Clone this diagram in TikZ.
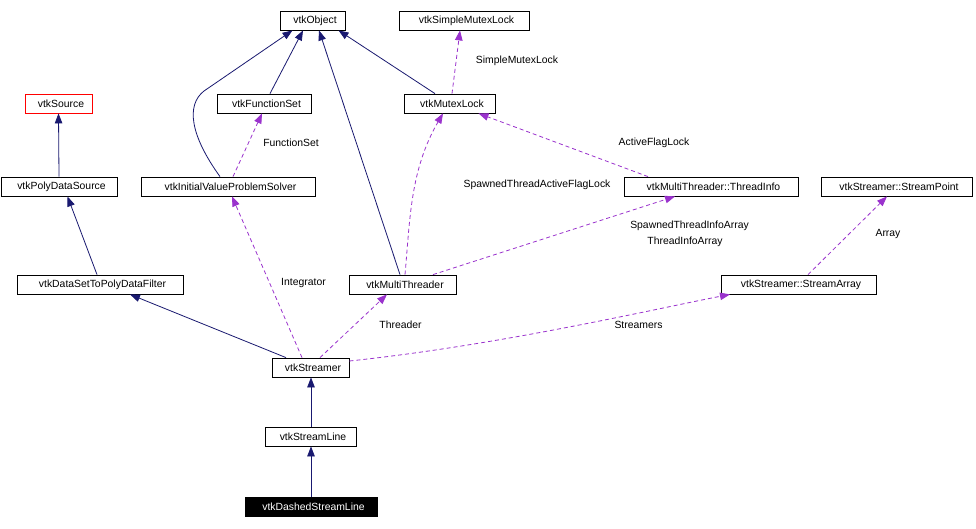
\documentclass[tikz,border=0pt]{standalone}
\usepackage{fontspec}
\setmainfont{Liberation Sans}
\usetikzlibrary{arrows.meta}
\definecolor{inhc}{HTML}{191970}
\definecolor{usec}{HTML}{9A32CD}
\tikzset{
  cls/.style={draw=black, line width=0.8pt, fill=white, inner sep=0pt, minimum height=19pt, font=\fontsize{10.4}{12}\selectfont, execute at begin node={\hspace*{5pt}}},
  inh/.style={draw=inhc, line width=0.8pt, -{Triangle[length=10pt,width=7.5pt]}},
  usage/.style={draw=usec, line width=0.8pt, dash pattern=on 4pt off 3pt, -{Triangle[length=10pt,width=7.5pt]}},
  lbl/.style={inner sep=0pt, font=\fontsize{10.4}{12}\selectfont}
}
\begin{document}
\begin{tikzpicture}[x=1pt,y=-1pt]
\useasboundingbox[fill=white] (0,0) rectangle (976,528);
% nodes
\node[cls, minimum width=65pt] (obj) at (312.5,20.5) {vtkObject};
\node[cls, minimum width=130pt] (sml) at (464,20.5) {vtkSimpleMutexLock};
\node[cls, minimum width=91pt] (mutex) at (449.5,103.5) {vtkMutexLock};
\node[cls, minimum width=94pt] (fset) at (264,103.5) {vtkFunctionSet};
\node[cls, draw=red, minimum width=67pt] (src) at (58.5,103.5) {vtkSource};
\node[cls, minimum width=116pt] (pds) at (59,186.5) {vtkPolyDataSource};
\node[cls, minimum width=174pt] (ivps) at (228,186.5) {vtkInitialValueProblemSolver};
\node[cls, minimum width=174pt] (tinfo) at (711,186.5) {vtkMultiThreader::ThreadInfo};
\node[cls, minimum width=151pt] (spt) at (896.5,186.5) {vtkStreamer::StreamPoint};
\node[cls, minimum width=166pt] (ds2pd) at (100,284.5) {vtkDataSetToPolyDataFilter};
\node[cls, minimum width=107pt] (mt) at (402.5,284.5) {vtkMultiThreader};
\node[cls, minimum width=155pt] (sarr) at (798.5,284.5) {vtkStreamer::StreamArray};
\node[cls, minimum width=77pt] (str) at (310.5,367.5) {vtkStreamer};
\node[cls, minimum width=91pt] (sline) at (310.5,436.5) {vtkStreamLine};
\node[cls, fill=black, text=white, minimum width=132pt] (dsl) at (311,506.5) {vtkDashedStreamLine};
% inheritance
\draw[inh] (pds.north) -- (src.south);
\draw[inh] ([xshift=-3pt]ds2pd.north) -- ([xshift=8.5pt]pds.south);
\draw[inh] ([xshift=-24.5pt]str.north) -- ([xshift=30pt]ds2pd.south);
\draw[inh] ([xshift=0.5pt]sline.north) -- ([xshift=0.5pt]str.south);
\draw[inh] ([xshift=0pt]dsl.north) -- ([xshift=0.5pt]sline.south);
\draw[inh] ([xshift=-8pt]ivps.north) .. controls (190,135) and (186,105) .. (204,91) -- ([xshift=-20pt]obj.south);
\draw[inh] ([xshift=6pt]fset.north) -- ([xshift=-9.5pt]obj.south);
\draw[inh] ([xshift=-2.5pt]mt.north) -- ([xshift=6.5pt]obj.south);
\draw[inh] ([xshift=-14.5pt]mutex.north) -- ([xshift=26pt]obj.south);
% usage
\draw[usage] ([xshift=2.5pt]mutex.north) -- ([xshift=-4pt]sml.south);
\draw[usage] ([xshift=5pt]ivps.north) -- ([xshift=-2pt]fset.south);
\draw[usage] ([xshift=2.5pt]mt.north) .. controls (410,220) and (410,170) .. ([xshift=-6.5pt]mutex.south);
\draw[usage] ([xshift=-63pt]tinfo.north) -- ([xshift=29pt]mutex.south);
\draw[usage] ([xshift=30.5pt]mt.north) -- ([xshift=-36pt]tinfo.south);
\draw[usage] ([xshift=9.5pt]sarr.north) -- ([xshift=-9.5pt]spt.south);
\draw[usage] ([xshift=-8.5pt]str.north) -- ([xshift=4pt]ivps.south);
\draw[usage] ([xshift=9.5pt]str.north) -- ([xshift=-15.5pt]mt.south);
\draw[usage] ([yshift=6.5pt]str.east) .. controls (500,345) and (650,310) .. ([xshift=-68.5pt]sarr.south);
% labels
\node[lbl] (l1) at (517,61) {SimpleMutexLock};
\node[lbl] (l2) at (291,143) {FunctionSet};
\node[lbl] (l3) at (654,143) {ActiveFlagLock};
\node[lbl] (l4) at (537,185) {SpawnedThreadActiveFlagLock};
\node[lbl] (l5) at (689.5,226) {SpawnedThreadInfoArray};
\node[lbl] (l6) at (685,242) {ThreadInfoArray};
\node[lbl] (l7) at (888,234) {Array};
\node[lbl] (l8) at (303.5,283) {Integrator};
\node[lbl] (l9) at (400.5,325) {Threader};
\node[lbl] (l10) at (638.5,325) {Streamers};
\end{tikzpicture}
\end{document}
